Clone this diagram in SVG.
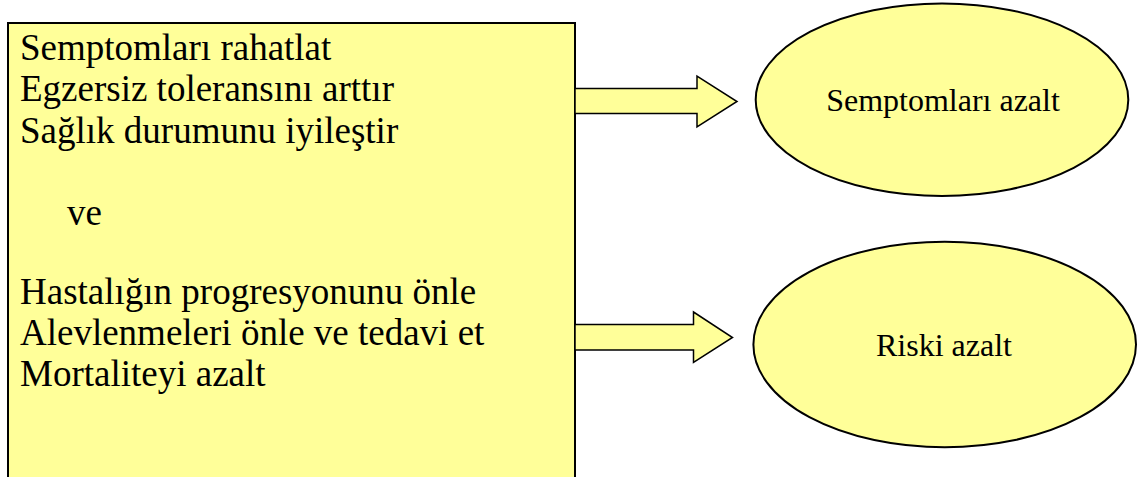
<svg xmlns="http://www.w3.org/2000/svg" width="1139" height="477" viewBox="0 0 1139 477">
  <style>
    .shape { fill: #ffff99; stroke: #000000; stroke-width: 2; }
    .arrow { fill: #ffff99; stroke: #000000; stroke-width: 1.5; stroke-linejoin: miter; }
    .main { font-family: "Liberation Serif", "Times New Roman", serif; font-size: 37px; fill: #000000; }
    .label { font-family: "Liberation Serif", "Times New Roman", serif; font-size: 32px; fill: #000000; text-anchor: middle; }
  </style>
  <rect width="1139" height="477" fill="#ffffff"/>

  <!-- goals box -->
  <g id="goals">
    <rect class="shape" x="8" y="23" width="567" height="470"/>
    <text class="main" x="20" y="59.5">Semptomları rahatlat</text>
    <text class="main" x="20" y="101">Egzersiz toleransını arttır</text>
    <text class="main" x="20" y="142.5">Sağlık durumunu iyileştir</text>
    <text class="main" x="67" y="224.5">ve</text>
    <text class="main" x="20" y="303.5">Hastalığın progresyonunu önle</text>
    <text class="main" x="20" y="344.5">Alevlenmeleri önle ve tedavi et</text>
    <text class="main" x="20" y="385.5">Mortaliteyi azalt</text>
  </g>

  <!-- block arrows -->
  <g id="connectors">
    <polygon class="arrow" points="575,88.5 697,88.5 697,76 737,101.5 697,127 697,113.5 575,113.5"/>
    <polygon class="arrow" points="575,324.5 693.5,324.5 693.5,312 732.5,337.5 693.5,362.5 693.5,350 575,350"/>
  </g>

  <g id="symptoms">
    <ellipse class="shape" cx="942" cy="99.7" rx="186.3" ry="96.3"/>
    <text class="label" x="943" y="111">Semptomları azalt</text>
  </g>

  <g id="risk">
    <ellipse class="shape" cx="944.7" cy="344.5" rx="191.3" ry="102.8"/>
    <text class="label" x="944" y="356">Riski azalt</text>
  </g>
</svg>
